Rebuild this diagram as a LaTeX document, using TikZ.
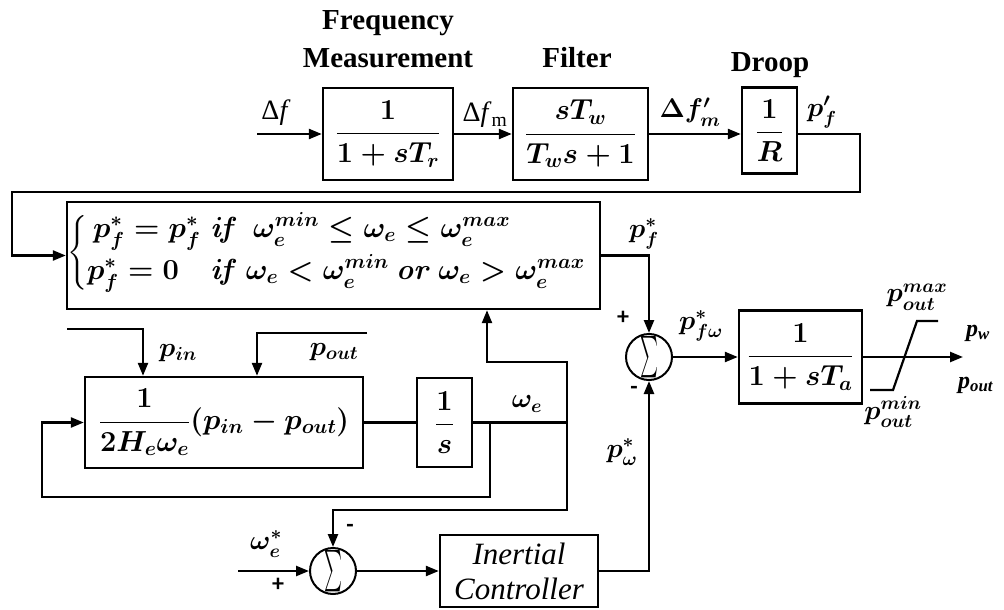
\RequirePackage{fix-cm}
\documentclass[tikz,border=0pt]{standalone}
\usepackage{amsmath}
\usepackage[no-math]{fontspec}
\setmainfont{Liberation Serif}
\newfontfamily\carlito{Carlito}
\usetikzlibrary{arrows.meta}
\newcommand\mfs{\fontsize{29}{34}\selectfont\boldmath}
\newcommand\lfs{\fontsize{27}{32}\selectfont\boldmath}
\newcommand\efs{\fontsize{29}{34}\selectfont\boldmath}
\begin{document}
\begin{tikzpicture}[x=1pt,y=-1pt,line width=2.4pt,
  >={Triangle[length=13pt,width=10pt]},
  blk/.style={draw,rectangle,inner sep=0pt,font=\mfs},
  lbl/.style={inner sep=0pt,font=\lfs},
  tlbl/.style={inner sep=0pt,anchor=base,font=\fontsize{29}{34}\selectfont\bfseries},
  sgn/.style={inner sep=0pt,font=\fontsize{24}{24}\selectfont\carlito\bfseries},
  sumc/.style={draw,circle,minimum size=46pt,inner sep=0pt,line width=2pt},
  slbl/.style={inner sep=0pt,font=\fontsize{24}{26}\selectfont\bfseries\itshape}]
\useasboundingbox (0,0) rectangle (1004,610);
\newcommand\sumsym{\resizebox{18pt}{31pt}{$\textstyle\sum$}}
% blocks
\node[blk,minimum width=130pt,minimum height=92pt] (b1) at (388,134) {$\dfrac{1}{1+sT_r}$};
\node[blk,minimum width=135pt,minimum height=92pt] (b2) at (580.5,134) {$\dfrac{sT_w}{T_ws+1}$};
\node[blk,minimum width=55pt,minimum height=86pt] (droop) at (769.5,130.5) {$\dfrac{1}{R}$};
\node[blk,minimum width=533pt,minimum height=107pt] (b3) at (333.5,255.5) {};
\node[inner sep=0pt,anchor=west,font=\efs] (b3t) at ([yshift=3pt]b3.west) {$\left\{\begin{array}{@{}l@{\hspace{10pt}}l@{}}
  \hspace{6pt}p^*_f=p^*_f & \mathit{if}\ \ \omega_e^{min}\le\omega_e\le\omega_e^{max}\\[7pt]
  p^*_f=0 & \mathit{if}\ \omega_e<\omega_e^{min}\ \mathit{or}\ \omega_e>\omega_e^{max}
  \end{array}\right.$};
\node[blk,minimum width=123pt,minimum height=93pt] (b4) at (800.5,357) {$\dfrac{1}{1+sT_a}$};
\node[blk,minimum width=278pt,minimum height=91pt] (b5) at (224,422.5) {$\dfrac{1}{2H_e\omega_e}(p_{in}-p_{out})$};
\node[blk,minimum width=55pt,minimum height=89pt] (integ) at (444.5,422.5) {$\dfrac{1}{s}$};
\node[draw,rectangle,inner sep=0pt,minimum width=158pt,minimum height=72pt,align=center,
  font=\fontsize{31}{35}\selectfont\itshape] (inertial) at (519,571) {Inertial\\Controller};
\node[sumc] (sum1) at (649,357) {\sumsym};
\node[sumc] (sum2) at (333,571) {\sumsym};
% coordinates
\coordinate (in1) at (257,134);
\coordinate (r1) at (860,192);
\coordinate (l1) at (12,192);
\coordinate (out) at (963,357);
\coordinate (we) at (567,422.5);
\coordinate (j1) at (567,362);
\coordinate (j2) at (487,362);
\coordinate (j3) at (567,510);
\coordinate (fb) at (490,422.5);
\coordinate (f1) at (490,497);
\coordinate (f2) at (42,497);
\coordinate (pin0) at (67,329);
\coordinate (pin1) at (143,329);
\coordinate (pout0) at (367,333);
\coordinate (pout1) at (257,333);
\coordinate (win) at (238,571);
% connectors
\draw[->] (in1) -- (b1);
\draw[->] (b1) -- (b2);
\draw[->] (b2.east) -- (b2.east -| droop.west);
\draw[->] (droop.east |- b2.east) -| (r1) -- (l1) |- (b3.west);
\draw[->] (b3.east) -| (sum1.north);
\draw[->] (sum1) -- (b4);
\draw[->] (b4) -- (out);
\draw (b5) -- (integ);
\draw[->] (integ.east) -- (we) -- (j1) -- (j2) -- (j2 |- b3.south);
\draw[->] (we) -- (j3) -| (sum2.north);
\draw[->] (fb) -- (f1) -- (f2) |- (b5.west);
\draw[->] (pin0) -- (pin1) -- (pin1 |- b5.north);
\draw[->] (pout0) -- (pout1) -- (pout1 |- b5.north);
\draw[->] (win) -- (sum2);
\draw[->] (sum2) -- (inertial);
\draw[->] (inertial.east) -| (sum1.south);
% saturation
\draw[line width=2.2pt] (870,390) -- (893,390) -- (917,321) -- (938,321);
% titles
\node[tlbl] (t1) at (388,30) {Frequency};
\node[tlbl] (t2) at (388,68) {Measurement};
\node[tlbl] (t3) at (577,68) {Filter};
\node[tlbl] (t4) at (770,72) {Droop};
% labels
\node[inner sep=0pt,font=\fontsize{28}{30}\selectfont] (ldf) at (276,113) {Δ\textit{f}};
\node[inner sep=0pt,font=\fontsize{28}{30}\selectfont] (ldfm) at (485,115) {Δ\textit{f}\textsubscript{m}};
\node[lbl] (ldfmp) at (690,112) {$\Delta f'_m$};
\node[lbl] (lpf) at (822,112) {$p'_f$};
\node[lbl] (lpfs) at (644,234) {$p^*_f$};
\node[sgn] (plus1) at (623,318) {+};
\node[sgn] (minus1) at (634,390) {-};
\node[lbl] (lpfw) at (701,326) {$p^*_{f\omega}$};
\node[lbl] (lmax) at (917,297) {$p_{out}^{max}$};
\node[lbl] (lmin) at (893,412) {$p_{out}^{min}$};
\node[slbl,anchor=west] (lpw) at (965,333) {p\textsubscript{w}};
\node[slbl,anchor=west] (lpo) at (957,385) {p\textsubscript{out}};
\node[lbl] (lpin) at (178,353) {$p_{in}$};
\node[lbl] (lpout) at (334,352) {$p_{out}$};
\node[lbl] (lwe) at (527,404) {$\omega_e$};
\node[lbl] (lpws) at (622,452) {$p^*_\omega$};
\node[lbl] (lwes) at (266,544) {$\omega^*_e$};
\node[sgn] (plus2) at (278,585) {+};
\node[sgn] (minus2) at (350,528) {-};
\end{tikzpicture}
\end{document}
